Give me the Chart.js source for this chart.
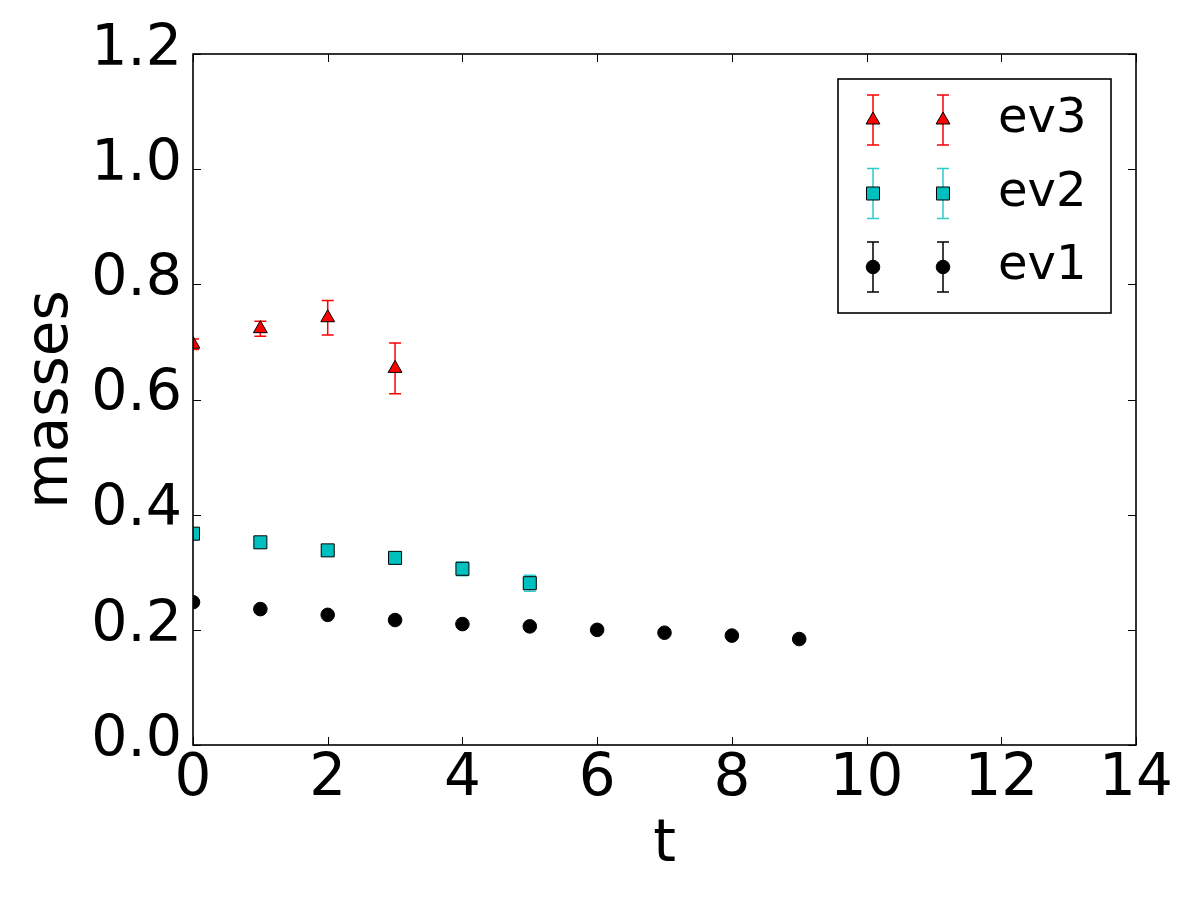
<!DOCTYPE html>
<html>
<head>
<meta charset="utf-8">
<script src="https://cdn.jsdelivr.net/npm/chart.js@4"></script>
<style>
  html, body { margin: 0; padding: 0; background: #fff; }
  canvas { display: block; }
</style>
</head>
<body>
<canvas id="chart" width="1200" height="900"></canvas>
<script>
// values
const tEv1 = [0, 1, 2, 3, 4, 5, 6, 7, 8, 9];
const ev1 = [0.248, 0.236, 0.226, 0.217, 0.210, 0.206, 0.200, 0.195, 0.190, 0.184];
const ev1Err = [0.003, 0.002, 0.002, 0.002, 0.002, 0.002, 0.002, 0.002, 0.002, 0.002];

const tEv2 = [0, 1, 2, 3, 4, 5];
const ev2 = [0.367, 0.352, 0.338, 0.325, 0.306, 0.281];
const ev2Err = [0.004, 0.004, 0.004, 0.005, 0.012, 0.014];

const tEv3 = [0, 1, 2, 3];
const ev3 = [0.696, 0.723, 0.742, 0.654];
const ev3Err = [0.009, 0.013, 0.030, 0.044];

const xTicks = [0, 2, 4, 6, 8, 10, 12, 14];
const yTicks = [0.0, 0.2, 0.4, 0.6, 0.8, 1.0, 1.2];
const yTickLabels = ['0.0', '0.2', '0.4', '0.6', '0.8', '1.0', '1.2'];

const font = 'DejaVu Sans';

const pts = (xs, ys) => xs.map((x, i) => ({ x: x, y: ys[i] }));

// error bars drawn under the markers
const errorBars = {
	id: 'errorBars',
	beforeDatasetsDraw(chart) {
		const { ctx, chartArea: a, scales: { x, y } } = chart;
		ctx.save();
		ctx.beginPath();
		ctx.rect(a.left, a.top, a.right - a.left, a.bottom - a.top);
		ctx.clip();
		ctx.lineWidth = 1.5;
		chart.data.datasets.forEach((ds) => {
			ctx.strokeStyle = ds.errorColor;
			ds.data.forEach((p, i) => {
				const px = x.getPixelForValue(p.x);
				const top = y.getPixelForValue(p.y + ds.errors[i]);
				const bot = y.getPixelForValue(p.y - ds.errors[i]);
				ctx.beginPath();
				ctx.moveTo(px, top); ctx.lineTo(px, bot);
				ctx.moveTo(px - 6, top); ctx.lineTo(px + 6, top);
				ctx.moveTo(px - 6, bot); ctx.lineTo(px + 6, bot);
				ctx.stroke();
			});
		});
		ctx.restore();
	},
};

// box round the axes and inward ticks on all four sides
const frame = {
	id: 'frame',
	afterDatasetsDraw(chart) {
		const { ctx, chartArea: a, scales: { x, y } } = chart;
		ctx.save();
		ctx.strokeStyle = '#000';
		ctx.lineWidth = 1;
		ctx.beginPath();
		xTicks.forEach((v) => {
			const px = Math.round(x.getPixelForValue(v)) + 0.5;
			ctx.moveTo(px, a.bottom); ctx.lineTo(px, a.bottom - 8);
			ctx.moveTo(px, a.top); ctx.lineTo(px, a.top + 8);
		});
		yTicks.forEach((v) => {
			const py = Math.round(y.getPixelForValue(v)) + 0.5;
			ctx.moveTo(a.left, py); ctx.lineTo(a.left + 8, py);
			ctx.moveTo(a.right, py); ctx.lineTo(a.right - 8, py);
		});
		ctx.stroke();
		ctx.lineWidth = 1.6;
		ctx.strokeRect(a.left, a.top, a.right - a.left, a.bottom - a.top);
		ctx.restore();
	},
};

// matplotlib style legend, two markers per entry, reversed order
const legendBox = {
	id: 'legendBox',
	afterDraw(chart) {
		const { ctx, chartArea: a } = chart;
		const w = 273, h = 234;
		const left = a.right - 25 - w, top = a.top + 25;
		ctx.save();
		ctx.fillStyle = '#fff';
		ctx.fillRect(left, top, w, h);
		ctx.strokeStyle = '#000';
		ctx.lineWidth = 1.6;
		ctx.strokeRect(left, top, w, h);
		const rows = chart.data.datasets.slice().reverse();
		rows.forEach((ds, r) => {
			const cy = top + 41 + r * 73.5;
			[left + 35, left + 105].forEach((cx) => {
				ctx.strokeStyle = ds.errorColor;
				ctx.lineWidth = 1.5;
				ctx.beginPath();
				ctx.moveTo(cx, cy - 25); ctx.lineTo(cx, cy + 25);
				ctx.moveTo(cx - 6, cy - 25); ctx.lineTo(cx + 6, cy - 25);
				ctx.moveTo(cx - 6, cy + 25); ctx.lineTo(cx + 6, cy + 25);
				ctx.stroke();
				ctx.fillStyle = ds.pointBackgroundColor;
				ctx.strokeStyle = '#000';
				ctx.lineWidth = 1;
				Chart.helpers.drawPoint(ctx, {
					pointStyle: ds.pointStyle,
					radius: ds.pointRadius,
					borderWidth: 1,
					rotation: 0,
				}, cx, cy);
			});
			ctx.fillStyle = '#000';
			ctx.font = '48px "' + font + '"';
			ctx.textAlign = 'left';
			ctx.textBaseline = 'middle';
			ctx.fillText(ds.label, left + 160, cy);
		});
		ctx.restore();
	},
};

new Chart(document.getElementById('chart'), {
	type: 'scatter',
	data: {
		datasets: [
			{
				label: 'ev1',
				data: pts(tEv1, ev1),
				errors: ev1Err,
				errorColor: '#000000',
				pointStyle: 'circle',
				pointRadius: 6.8,
				pointBackgroundColor: '#000000',
				pointBorderColor: '#000000',
				pointBorderWidth: 1,
				clip: 0,
			},
			{
				label: 'ev2',
				data: pts(tEv2, ev2),
				errors: ev2Err,
				errorColor: '#30cccc',
				pointStyle: 'rect',
				pointRadius: 9.2,
				pointBackgroundColor: '#00bfbf',
				pointBorderColor: '#000000',
				pointBorderWidth: 1,
				clip: 0,
			},
			{
				label: 'ev3',
				data: pts(tEv3, ev3),
				errors: ev3Err,
				errorColor: '#ff0000',
				pointStyle: 'triangle',
				pointRadius: 8,
				pointBackgroundColor: '#ff0000',
				pointBorderColor: '#000000',
				pointBorderWidth: 1,
				clip: 0,
			},
		],
	},
	options: {
		responsive: false,
		animation: false,
		events: [],
		layout: { padding: { top: 54, right: 64, left: 0, bottom: 0 } },
		plugins: {
			legend: { display: false },
			tooltip: { enabled: false },
		},
		scales: {
			x: {
				type: 'linear',
				min: 0,
				max: 14,
				afterBuildTicks: (s) => { s.ticks = xTicks.map((v) => ({ value: v })); },
				afterFit: (s) => { s.height = 155; },
				grid: { display: false, drawTicks: false },
				border: { display: false },
				ticks: {
					color: '#000',
					padding: 0,
					maxRotation: 0,
					font: { family: font, size: 58 },
				},
				title: {
					display: true,
					text: 't',
					color: '#000',
					padding: { top: 0, bottom: 19 },
					font: { family: font, size: 58 },
				},
			},
			y: {
				type: 'linear',
				min: 0,
				max: 1.2,
				afterBuildTicks: (s) => { s.ticks = yTicks.map((v) => ({ value: v })); },
				afterFit: (s) => { s.width = 193; },
				grid: { display: false, drawTicks: false },
				border: { display: false },
				ticks: {
					color: '#000',
					padding: 11,
					labelOffset: -4,
					font: { family: font, size: 57 },
					callback: (v) => yTickLabels[yTicks.findIndex((t) => Math.abs(t - v) < 1e-9)],
				},
				title: {
					display: true,
					text: 'masses',
					color: '#000',
					padding: { top: 17, bottom: 0 },
					font: { family: font, size: 58 },
				},
			},
		},
	},
	plugins: [errorBars, frame, legendBox],
});
</script>
</body>
</html>
